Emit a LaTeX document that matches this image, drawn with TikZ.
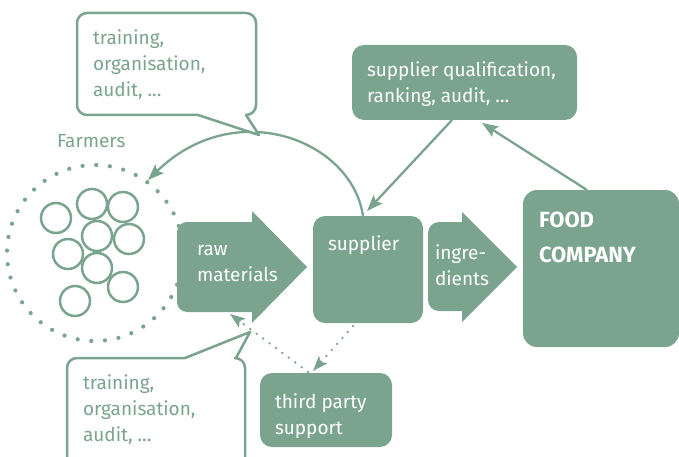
\documentclass[tikz,border=0pt]{standalone}
\usepackage{fontspec}
\setmainfont{Fira Sans}
\usetikzlibrary{arrows.meta}
\definecolor{sg}{RGB}{122,164,141}
\newcommand\ml[1]{\begin{tabular}[t]{@{}l@{}}#1\end{tabular}}
\begin{document}
\begin{tikzpicture}[x=1pt,y=-1pt,
  every node/.style={inner sep=0pt, outer sep=0pt},
  box/.style={fill=sg, rounded corners=12pt},
  wt/.style={text=white, anchor=base west, font=\fontsize{19}{26}\selectfont},
  gt/.style={text=sg, anchor=base west, font=\fontsize{19}{26}\selectfont},
  conn/.style={draw=sg, line width=2.3pt, -{Stealth[length=16pt,width=12pt,inset=3pt]}},
  dconn/.style={draw=sg, line width=2.6pt, line cap=round, dash pattern=on 0pt off 8pt, -{Stealth[length=15pt,width=11pt,inset=3pt]}},
  callout/.style={draw=sg, line width=2.5pt, fill=white, line join=round},
  farmer/.style={circle, draw=sg, line width=2.5pt, minimum size=30pt},
  farmcirc/.style={circle, draw=sg, line width=4.2pt, line cap=round, dash pattern=on 0pt off 13.7pt, minimum size=176pt}
]
\useasboundingbox (0,0) rectangle (679,457);

% farmers
\node[farmcirc] (farm) at (95,253) {};
\node[farmer] (c1) at (56,218) {};
\node[farmer] (c2) at (92,204) {};
\node[farmer] (c3) at (123,207) {};
\node[farmer] (c4) at (97,236) {};
\node[farmer] (c5) at (129,239) {};
\node[farmer] (c6) at (68,254) {};
\node[farmer] (c7) at (97,268) {};
\node[farmer] (c8) at (123,287) {};
\node[farmer] (c9) at (75,301) {};
\node[gt] (farmers) at (57,148) {Farmers};

% boxes
\node[box, minimum width=225pt, minimum height=75pt] (qual) at (464.5,82.5) {};
\node[box, minimum width=110pt, minimum height=107pt] (supp) at (368,269.5) {};
\node[box, minimum width=156pt, minimum height=157pt, rounded corners=14pt] (food) at (601,268.5) {};
\node[box, minimum width=132pt, minimum height=74pt] (third) at (326,410) {};

% block arrows
\fill[sg, rounded corners=10pt] (177,222) rectangle (264,312);
\fill[sg] (252,211) -- (307,267) -- (252,323) -- cycle;
\fill[sg, rounded corners=11pt] (428,222) rectangle (474,311);
\fill[sg] (462,212) -- (517,267) -- (462,322) -- cycle;
\coordinate (rawb) at (230,314);
\coordinate (farmtip) at (148,180);

% connectors
\draw[conn] ([xshift=100pt]qual.south west) -- ([xshift=54pt,yshift=5pt]supp.north west);
\draw[conn] ([xshift=64pt]food.north west) -- ([xshift=130pt,yshift=-3pt]qual.south west);
\draw[conn] ([xshift=50pt]supp.north west) .. controls (352,140) and (235,95) .. (farmtip);
\draw[dconn] ([xshift=40pt,yshift=-3pt]supp.south west) -- ([xshift=53pt,yshift=2pt]third.north west);
\draw[dconn] ([xshift=48pt,yshift=1pt]third.north west) -- (rawb);

% callouts
\draw[callout] (259,135) -- (198,115) [rounded corners=10pt] -- (77,115) -- (77,13) -- (256,13) -- (256,115) [sharp corners] -- (246,115) -- cycle;
\draw[callout] (250,332) -- (185,358) [rounded corners=10pt] -- (67,358) -- (67,475) -- (245,475) -- (245,358) [sharp corners] -- (236,358) -- cycle;

% texts
\node[gt] (t1) at (93,45) {\ml{training,\\organisation,\\audit, ...}};
\node[gt] (t2) at (83,389) {\ml{training,\\organisation,\\audit, ...}};
\node[wt] (qt) at (367,77) {\ml{supplier qualification,\\ranking, audit, ...}};
\node[wt] (st) at (328,250) {supplier};
\node[wt] (rt) at (197,255) {\ml{raw\\materials}};
\node[wt] (it) at (435,259) {\ml{ingre-\\dients}};
\node[wt, font=\fontsize{22}{35}\selectfont\bfseries] (ft) at (539,227) {\ml{FOOD\\COMPANY}};
\node[wt] (tt) at (275,408) {\ml{third party\\support}};
\end{tikzpicture}
\end{document}
